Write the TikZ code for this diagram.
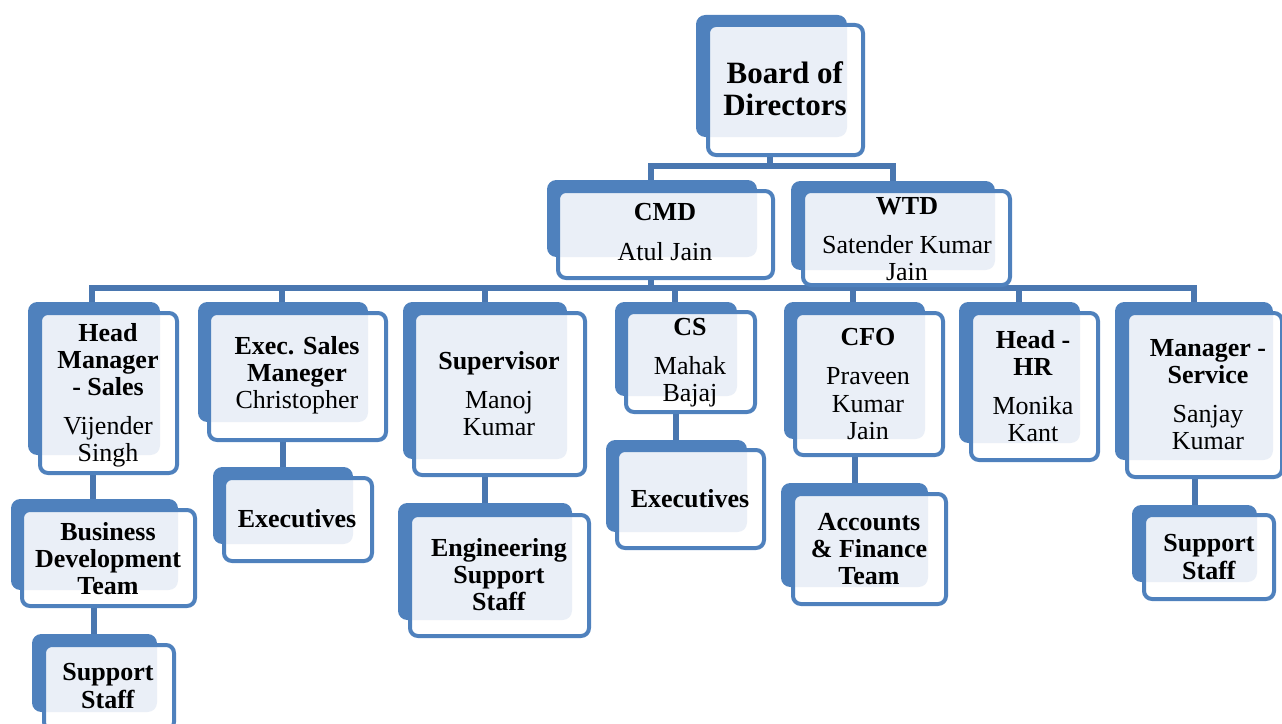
\documentclass[tikz,border=0pt]{standalone}
\usepackage{fontspec}
\setmainfont{Liberation Serif}
\definecolor{backblue}{HTML}{4F81BD}
\definecolor{lightfill}{HTML}{EAEFF7}
\definecolor{connblue}{HTML}{4A77B0}
\tikzset{
  conn/.style={draw=connblue, line width=3.8pt},
  backbox/.style={fill=backblue, rounded corners=7pt},
  frontfill/.style={fill=white, rounded corners=6pt},
  innerfill/.style={fill=lightfill, rounded corners=6pt},
  frontline/.style={draw=backblue, line width=3pt, rounded corners=6pt},
  txt/.style={align=center, inner sep=0pt, font=\fontsize{19.5}{20.3}\selectfont}
}
\newcommand\orgbox[8]{%
  \fill[backbox] (#2) rectangle (#3);
  \fill[frontfill] ([shift={(2,2)}]#4) rectangle ([shift={(-2,-2)}]#5);
  \begin{scope}
    \clip[rounded corners=7pt] (#2) rectangle (#3);
    \fill[innerfill] ([shift={(2,2)}]#4) rectangle ([shift={(-2,-2)}]#5);
  \end{scope}
  \draw[frontline] ([shift={(2,2)}]#4) rectangle ([shift={(-2,-2)}]#5);
  \node[txt,#8] (#1) at (#6) {#7};
}
\begin{document}
\begin{tikzpicture}[x=0.75pt,y=-0.75pt]
\useasboundingbox (0,0) rectangle (1282,724);

% connector end points
\coordinate (board-b) at (770,150);
\coordinate (bus1) at (770,166);
\coordinate (cmd-t) at (651,185);
\coordinate (wtd-t) at (893,185);
\coordinate (cmd-b) at (651,270);
\coordinate (bus2) at (651,288);
\coordinate (hm-t) at (92,306);
\coordinate (esm-t) at (282,306);
\coordinate (sup-t) at (485,306);
\coordinate (cs-t) at (675,306);
\coordinate (cfo-t) at (853,306);
\coordinate (hr-t) at (1019,306);
\coordinate (ms-t) at (1194,306);
\coordinate (hm-b) at (93,470);
\coordinate (bdt-t) at (93,503);
\coordinate (bdt-b) at (94,600);
\coordinate (ss1-t) at (94,638);
\coordinate (esm-b) at (283,436);
\coordinate (exe1-t) at (283,471);
\coordinate (sup-b) at (485,470);
\coordinate (ess-t) at (485,507);
\coordinate (cs-b) at (676,408);
\coordinate (exe2-t) at (676,444);
\coordinate (cfo-b) at (855,450);
\coordinate (aft-t) at (855,487);
\coordinate (ms-b) at (1195,472);
\coordinate (ss2-t) at (1195,509);

% connectors
\draw[conn] (board-b) -- (bus1);
\draw[conn] (cmd-t) |- (bus1) -| (wtd-t);
\draw[conn] (cmd-b) -- (bus2);
\draw[conn] (hm-t) |- (bus2) -| (ms-t);
\foreach \c in {esm-t,sup-t,cs-t,cfo-t,hr-t}
  \draw[conn] (\c) -- (\c |- bus2);
\draw[conn] (hm-b) -- (bdt-t);
\draw[conn] (bdt-b) -- (ss1-t);
\draw[conn] (esm-b) -- (exe1-t);
\draw[conn] (sup-b) -- (ess-t);
\draw[conn] (cs-b) -- (exe2-t);
\draw[conn] (cfo-b) -- (aft-t);
\draw[conn] (ms-b) -- (ss2-t);

% boxes
\orgbox{board}{696,15}{847,137}{706,23}{865,157}{785,89}{\textbf{Board of}\\\textbf{Directors}}{font=\fontsize{23.25}{24}\selectfont}
\orgbox{cmd}{547,180}{757,257}{556,189}{775,280}{665,232}{\textbf{CMD}\\[9pt]Atul Jain}{}
\orgbox{wtd}{791,181}{995,270}{801,189}{1012,287}{907,239}{\textbf{WTD}\\[9pt]Satender Kumar\\Jain}{}

\orgbox{hm}{28,302}{160,455}{38,311}{179,475}{108,395}{\textbf{Head}\\\textbf{Manager}\\\textbf{- Sales}\\[9pt]Vijender\\Singh}{}
\orgbox{bdt}{11,499}{178,590}{20,508}{197,608}{108,559}{\textbf{Business}\\\textbf{Development}\\\textbf{Team}}{}
\orgbox{ss1}{32,634}{157,712}{42,643}{176,732}{108,686}{\textbf{Support}\\\textbf{Staff}}{}

\orgbox{esm}{198,302}{368,422}{207,311}{388,442}{297,375}{\textbf{Exec. Sales}\\\textbf{Maneger}\\Christopher}{}
\orgbox{exe1}{213,467}{353,544}{222,476}{374,563}{297,519}{\textbf{Executives}}{}

\orgbox{sup}{403,302}{567,459}{412,311}{587,477}{499,394}{\textbf{Supervisor}\\[9pt]Manoj\\Kumar}{}
\orgbox{ess}{398,503}{572,620}{408,513}{591,638}{499,575}{\textbf{Engineering}\\\textbf{Support}\\\textbf{Staff}}{}

\orgbox{cs}{615,302}{737,396}{624,310}{757,414}{690,363}{\textbf{CS}\\[9pt]Mahak\\Bajaj}{}
\orgbox{exe2}{606,440}{747,532}{615,448}{766,550}{690,499}{\textbf{Executives}}{}

\orgbox{cfo}{784,302}{925,439}{793,311}{945,457}{868,384}{\textbf{CFO}\\[9pt]Praveen\\Kumar\\Jain}{}
\orgbox{aft}{781,483}{928,587}{791,492}{948,606}{869,549}{\textbf{Accounts}\\\textbf{\& Finance}\\\textbf{Team}}{}

\orgbox{hr}{959,302}{1080,443}{969,311}{1100,462}{1033,386}{\textbf{Head -}\\\textbf{HR}\\[9pt]Monika\\Kant}{}

\orgbox{ms}{1115,302}{1273,460}{1125,311}{1284,479}{1208,395}{\textbf{Manager -}\\\textbf{Service}\\[9pt]Sanjay\\Kumar}{}
\orgbox{ss2}{1132,505}{1257,582}{1142,513}{1276,601}{1209,557}{\textbf{Support}\\\textbf{Staff}}{}
\end{tikzpicture}
\end{document}
